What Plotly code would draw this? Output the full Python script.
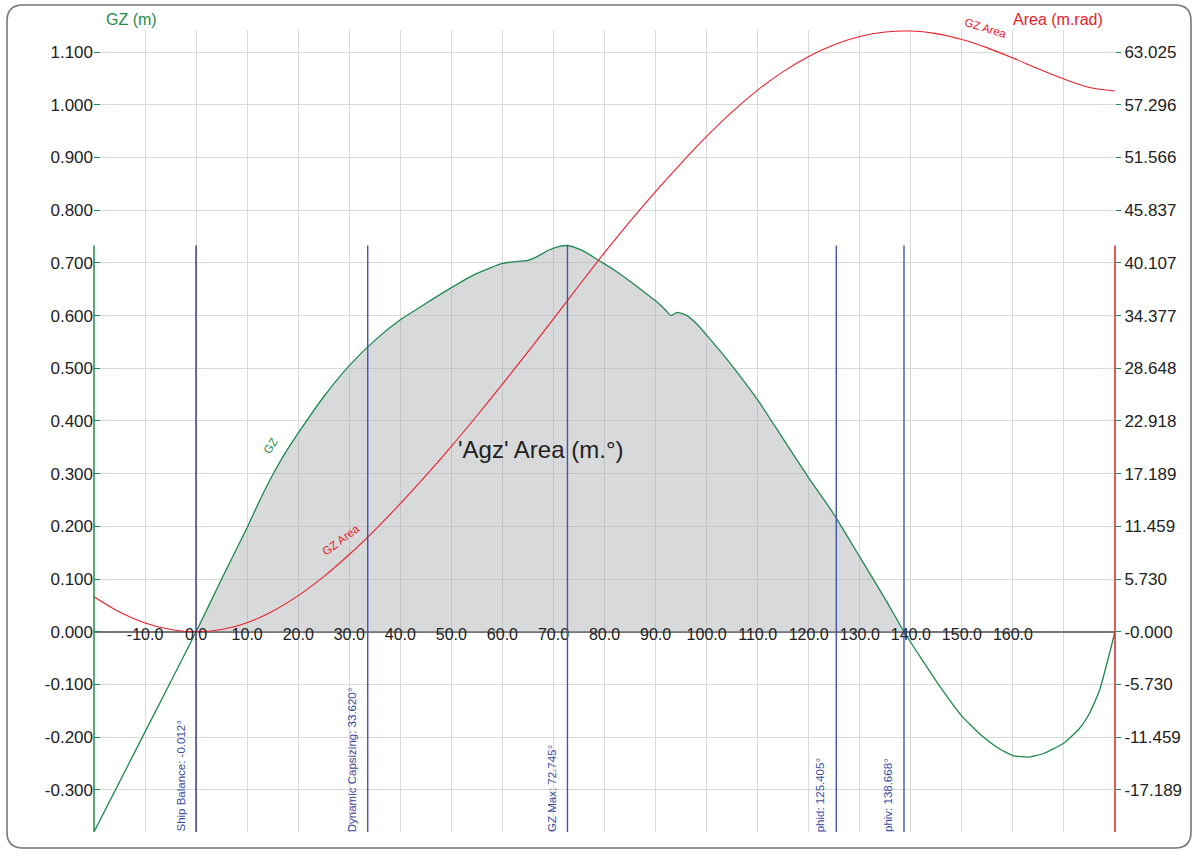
import plotly.graph_objects as go

# ---------------- data ----------------
gz_angles = [-20, -10, 0, 5, 10, 12.5, 15, 17.5, 20, 25, 30, 35, 40, 45, 50, 55, 60, 63, 65,
             67, 69, 71, 72.745, 74, 76, 79, 82, 85, 88, 90, 92, 93, 94.2, 96, 98, 100, 104,
             110, 115, 120, 125, 130, 135, 138.668, 142, 146, 150, 154, 157, 160, 163, 166,
             170, 173, 175, 177, 180]
gz_values = [-0.380, -0.190, 0.000, 0.100, 0.198, 0.250, 0.298, 0.340, 0.377, 0.446, 0.505,
             0.553, 0.592, 0.623, 0.653, 0.680, 0.699, 0.703, 0.705, 0.713, 0.724, 0.731,
             0.733, 0.730, 0.722, 0.704, 0.686, 0.665, 0.643, 0.628, 0.610, 0.600, 0.606,
             0.601, 0.585, 0.563, 0.517, 0.440, 0.366, 0.292, 0.222, 0.142, 0.062, 0.000,
             -0.050, -0.108, -0.160, -0.198, -0.220, -0.235, -0.238, -0.231, -0.211, -0.184,
             -0.155, -0.110, 0.000]

area_angles = [-20, -15, -10, -5, 0, 5, 10, 15, 20, 25, 30, 35, 40, 45, 50, 55, 60, 65, 70,
               75, 80, 85, 90, 95, 100, 105, 110, 115, 120, 125, 130, 135, 140, 145, 150,
               155, 160, 165, 170, 175, 180]
area_values = [3.80, 2.14, 0.95, 0.24, 0.00, 0.25, 0.99, 2.24, 3.93, 6.00, 8.40, 11.06,
               13.93, 16.97, 20.16, 23.49, 26.93, 30.44, 34.02, 37.65, 41.22, 44.63, 47.86,
               50.94, 53.86, 56.53, 58.90, 60.91, 62.55, 63.82, 64.72, 65.22, 65.32, 65.04,
               64.40, 63.49, 62.39, 61.21, 60.10, 59.18, 58.80]

marker_names = ["Ship Balance", "Dynamic Capsizing", "GZ Max", "phid", "phiv"]
marker_angles = [-0.012, 33.620, 72.745, 125.405, 138.668]
marker_colors = ["#3d2a7c", "#4453ad", "#4453ad", "#4453ad", "#4453ad"]

x_tick_vals = [-20, -10, 0, 10, 20, 30, 40, 50, 60, 70, 80, 90, 100, 110, 120, 130, 140,
               150, 160, 170, 180]
x_tick_text = ["", "-10.0", "0.0", "10.0", "20.0", "30.0", "40.0", "50.0", "60.0", "70.0",
               "80.0", "90.0", "100.0", "110.0", "120.0", "130.0", "140.0", "150.0",
               "160.0", "", ""]
y_tick_vals = [-0.3, -0.2, -0.1, 0.0, 0.1, 0.2, 0.3, 0.4, 0.5, 0.6, 0.7, 0.8, 0.9, 1.0, 1.1]
y_tick_text = ["-0.300", "-0.200", "-0.100", "0.000", "0.100", "0.200", "0.300", "0.400",
               "0.500", "0.600", "0.700", "0.800", "0.900", "1.000", "1.100"]
y2_tick_text = ["-17.189", "-11.459", "-5.730", "-0.000", "5.730", "11.459", "17.189",
                "22.918", "28.648", "34.377", "40.107", "45.837", "51.566", "57.296",
                "63.025"]

DEG_PER_RAD = 57.29578
X_RANGE = [-20, 180]
Y_RANGE = [-0.38, 1.142]

GREEN = "#1f8a4c"
RED = "#e8202a"
FONT = "Liberation Sans, Arial, sans-serif"
TXT = "#222222"

W, H = 1198, 855
ML, MR, MT, MB = 94, 83, 30, 23
PW, PH = W - ML - MR, H - MT - MB


def px2paper(px, py):
    return (px - ML) / PW, (H - MB - py) / PH


fig = go.Figure()

# grey fill under positive GZ
phiv = marker_angles[-1]
fill_x = [a for a in gz_angles if 0 <= a <= phiv]
fill_y = [v for a, v in zip(gz_angles, gz_values) if 0 <= a <= phiv]
fig.add_trace(go.Scatter(x=fill_x, y=fill_y, mode="lines",
                         line=dict(width=0, shape="spline", smoothing=0.5),
                         fill="tozeroy", fillcolor="rgba(168,171,176,0.45)",
                         hoverinfo="skip", showlegend=False))

fig.add_trace(go.Scatter(x=gz_angles, y=gz_values, mode="lines", name="GZ",
                         line=dict(color=GREEN, width=1.3, shape="spline", smoothing=0.5),
                         showlegend=False))

fig.add_trace(go.Scatter(x=area_angles, y=area_values, mode="lines", name="GZ Area",
                         line=dict(color=RED, width=1.1, shape="spline", smoothing=0.8),
                         yaxis="y2", showlegend=False))

gz_max = max(gz_values)
shapes = []
annotations = []
for name, ang, col in zip(marker_names, marker_angles, marker_colors):
    shapes.append(dict(type="line", xref="x", yref="y", x0=ang, x1=ang,
                       y0=Y_RANGE[0], y1=gz_max, line=dict(color=col, width=1.4),
                       layer="above"))
    annotations.append(dict(x=ang, y=0, xref="x", yref="paper", xanchor="center",
                            yanchor="bottom", xshift=-16, yshift=-2, textangle=-90,
                            text=f"{name}: {ang:.3f}°", showarrow=False,
                            font=dict(family=FONT, size=11.5, color="#3b4a9c")))

# axis spines (partial)
shapes.append(dict(type="line", xref="paper", yref="y", x0=0, x1=0, y0=Y_RANGE[0],
                   y1=gz_max, line=dict(color=GREEN, width=1.5), layer="above"))
shapes.append(dict(type="line", xref="paper", yref="y", x0=1, x1=1, y0=Y_RANGE[0],
                   y1=gz_max, line=dict(color="#d9232a", width=1.5), layer="above"))

# rounded frame
L, R, T, B, r = 7, 1191, 5, 848, 16
pts = {
    "a": px2paper(L + r, T), "b": px2paper(R - r, T), "c": px2paper(R, T),
    "d": px2paper(R, T + r), "e": px2paper(R, B - r), "f": px2paper(R, B),
    "g": px2paper(R - r, B), "h": px2paper(L + r, B), "i": px2paper(L, B),
    "j": px2paper(L, B - r), "k": px2paper(L, T + r), "l": px2paper(L, T),
}


def p(k):
    return f"{pts[k][0]:.5f},{pts[k][1]:.5f}"


path = (f"M {p('a')} L {p('b')} Q {p('c')} {p('d')} L {p('e')} Q {p('f')} {p('g')} "
        f"L {p('h')} Q {p('i')} {p('j')} L {p('k')} Q {p('l')} {p('a')} Z")
shapes.append(dict(type="path", xref="paper", yref="paper", path=path,
                   line=dict(color="#777777", width=1.6), layer="above"))

# texts
gx, gy = px2paper(131, 19)
ax_, ay_ = px2paper(1058, 19)
_, top_lbl_y = px2paper(0, 28)
annotations += [
    dict(x=gx, y=gy, xref="paper", yref="paper", text="GZ (m)", showarrow=False,
         xanchor="center", yanchor="middle",
         font=dict(family=FONT, size=16, color=GREEN)),
    dict(x=ax_, y=ay_, xref="paper", yref="paper", text="Area (m.rad)", showarrow=False,
         xanchor="center", yanchor="middle",
         font=dict(family=FONT, size=16, color=RED)),
    dict(x=67.4, y=0.346, xref="x", yref="y", text="'Agz' Area (m.°)", showarrow=False,
         xanchor="center", yanchor="middle",
         font=dict(family=FONT, size=24, color=TXT)),
    dict(x=14.6, y=0.352, xref="x", yref="y", text="GZ", showarrow=False, textangle=-57,
         xanchor="center", yanchor="middle",
         font=dict(family=FONT, size=11.5, color=GREEN)),
    dict(x=28.3, y=0.175 * DEG_PER_RAD, xref="x", yref="y2", text="GZ Area",
         xanchor="center", yanchor="middle",
         showarrow=False, textangle=-37, font=dict(family=FONT, size=11.5, color=RED)),
    dict(x=154.6, y=top_lbl_y, xref="x", yref="paper", text="GZ Area",
         xanchor="center", yanchor="middle",
         showarrow=False, textangle=17, font=dict(family=FONT, size=11.5, color=RED)),
]

zero_pos = (0 - Y_RANGE[0]) / (Y_RANGE[1] - Y_RANGE[0])

fig.update_layout(
    width=W, height=H,
    margin=dict(l=ML, r=MR, t=MT, b=MB, pad=0),
    paper_bgcolor="white", plot_bgcolor="white",
    font=dict(family=FONT, color=TXT),
    showlegend=False,
    shapes=shapes, annotations=annotations,
    xaxis=dict(range=X_RANGE, tickmode="array", tickvals=x_tick_vals, ticktext=x_tick_text,
               showgrid=True, gridcolor="#d9d9d9", gridwidth=1, zeroline=False,
               showline=False, ticks="", anchor="free", position=zero_pos,
               ticklabelstandoff=-9, tickfont=dict(family=FONT, size=16, color=TXT)),
    yaxis=dict(range=Y_RANGE, tickmode="array", tickvals=y_tick_vals, ticktext=y_tick_text,
               showgrid=True, gridcolor="#d9d9d9", gridwidth=1, zeroline=True,
               zerolinecolor="#777777", zerolinewidth=2, showline=False,
               ticks="inside", ticklen=6, tickcolor=GREEN, tickwidth=1.2,
               tickfont=dict(family=FONT, size=17, color=TXT)),
    yaxis2=dict(range=[v * DEG_PER_RAD for v in Y_RANGE], overlaying="y", side="right",
                tickmode="array", tickvals=[v * DEG_PER_RAD for v in y_tick_vals],
                ticktext=y2_tick_text, showgrid=False, zeroline=False, showline=False,
                ticks="outside", ticklen=5, tickcolor=GREEN, tickwidth=1.2,
                tickfont=dict(family=FONT, size=17, color=TXT)),
)

fig.write_html("out.html", config={"displayModeBar": False},
               post_script="document.body.style.margin='0px';")
